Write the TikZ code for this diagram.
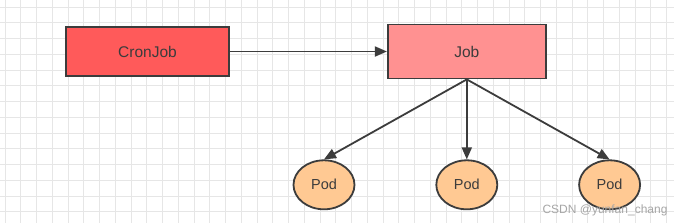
\documentclass[tikz,border=0pt]{standalone}
\usepackage{fontspec}
\setmainfont{Liberation Sans}
\usetikzlibrary{shapes.geometric, arrows.meta, positioning}
\definecolor{cronred}{RGB}{255,90,90}
\definecolor{jobpink}{RGB}{255,145,145}
\definecolor{podorange}{RGB}{255,201,147}
\definecolor{edgegray}{RGB}{60,60,60}
\definecolor{gridgray}{RGB}{230,230,230}

\begin{document}
\begin{tikzpicture}[
  x=1pt, y=1pt,
  node distance = 80pt and 80pt,
  boxnode/.style  = {rectangle, draw=edgegray, line width=1.8pt, text=edgegray,
                 align=center, font=\fontsize{15.5}{18}\selectfont},
  cronnode/.style = {boxnode, fill=cronred, minimum width=163pt, minimum height=49pt},
  jobnode/.style  = {boxnode, fill=jobpink, minimum width=158pt, minimum height=54pt},
  podnode/.style  = {ellipse, draw=edgegray, line width=1.8pt, fill=podorange, text=edgegray,
                 minimum width=61pt, minimum height=49pt, inner sep=0pt,
                 font=\fontsize{14.5}{16}\selectfont},
  wmark/.style    = {font=\fontsize{12}{14}\selectfont, text=black!35},
  arr/.style  = {-{Triangle[length=12pt, width=10pt]}, line width=1.8pt, color=edgegray},
]

%% --- Canvas + grid ---
\useasboundingbox (0,0) rectangle (674,-223);
\fill[white] (0,0) rectangle (674,-223);
\draw[gridgray, line width=1pt, shift={(5,-7)}, step=15.75pt] (-5,7) grid (669,-216);

%% --- Controllers ---
\node[cronnode] (cron) at (147.5,-51.5) {CronJob};
\node[jobnode, right=157pt of cron] (job) {Job};

%% --- Pods ---
\node[podnode, below=80pt of job] (pod2) {Pod};
\node[podnode, left=of pod2]  (pod1) {Pod};
\node[podnode, right=of pod2] (pod3) {Pod};

%% --- Arrows ---
\draw[arr] (cron) -- (job);
\foreach \p in {pod1,pod2,pod3} {
  \draw[arr] (job.south) -- (\p.north);
}

%% --- Watermark ---
\node[wmark, anchor=east] (mark) at (671,-210) {CSDN @yunfan\_chang};

\end{tikzpicture}
\end{document}
